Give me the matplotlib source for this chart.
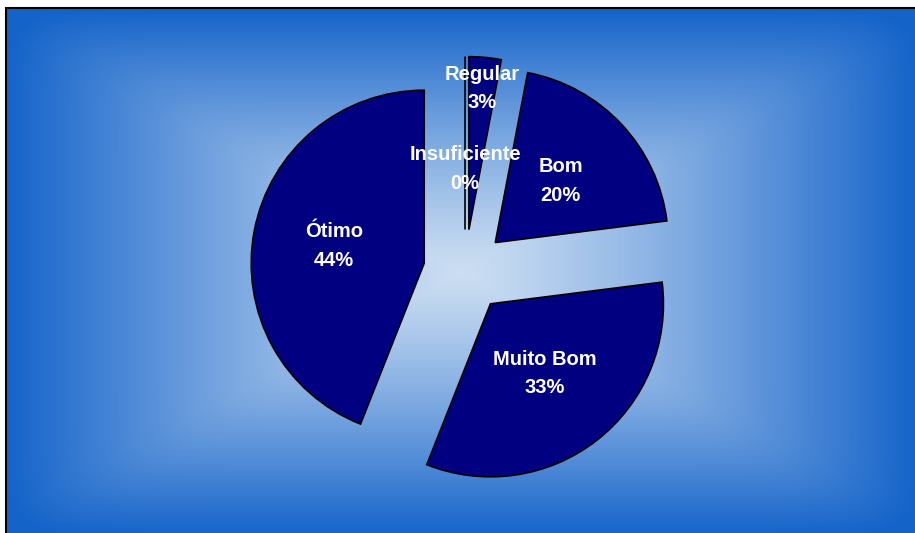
import numpy as np
import matplotlib.pyplot as plt
from matplotlib.patches import Rectangle

# data
categories = ["Insuficiente", "Regular", "Bom", "Muito Bom", "Ótimo"]
values = [0, 3, 20, 33, 44]
pct_labels = ["0%", "3%", "20%", "33%", "44%"]

plt.rcParams['font.family'] = ['Liberation Sans', 'DejaVu Sans']

W, H = 915, 533
fig = plt.figure(figsize=(W / 100, H / 100), dpi=100)
fig.patch.set_facecolor("white")
ax = fig.add_axes([0, 0, 1, 1])

# background: rectangular gradient, light in the centre, blue at the edges
x0, x1, y0, y1 = 6, W + 4, -4, H - 8
nx, ny = 460, 270
gx = np.linspace(-1, 1, nx)
gy = np.linspace(-1, 1, ny)
X, Y = np.meshgrid(gx, gy)
t = (np.abs(X) ** 14 + np.abs(Y) ** 14) ** (1 / 14)
t = np.clip(t, 0, 1) ** 1.2
light = np.array([0.80, 0.87, 0.95])
blue = np.array([0.08, 0.39, 0.79])
img = light[None, None, :] * (1 - t[..., None]) + blue[None, None, :] * t[..., None]
ax.imshow(img, extent=[x0, x1, y0, y1], aspect='auto', zorder=0, interpolation='bilinear')
ax.add_patch(Rectangle((x0, y0), x1 - x0, y1 - y0, fill=False, edgecolor="black", lw=1.5, zorder=1))

# pie
R = 173
center = (465, H - 271)
explode = [0.24 * R] * len(values)
wedges, _ = ax.pie(values, radius=R, center=center, startangle=90, counterclock=False,
                   explode=explode, colors=["#000080"] * len(values),
                   wedgeprops=dict(edgecolor="black", linewidth=1.2))
for w in wedges:
    w.set_zorder(2)

# label distances (fraction of radius) from each exploded wedge's apex
label_dist = [0.35, 0.82, 0.52, 0.51, 0.53]
for w, cat, pct, d in zip(wedges, categories, pct_labels, label_dist):
    th = np.deg2rad((w.theta1 + w.theta2) / 2)
    cx, cy = w.center
    ax.text(cx + d * R * np.cos(th), cy + d * R * np.sin(th), f"{cat}\n{pct}",
            ha="center", va="center", color="white", fontsize=14.5, fontweight="bold",
            linespacing=1.65, zorder=3)

ax.set_xlim(0, W)
ax.set_ylim(0, H)
ax.axis("off")

fig.savefig("out.png", dpi=100, facecolor=fig.get_facecolor())
